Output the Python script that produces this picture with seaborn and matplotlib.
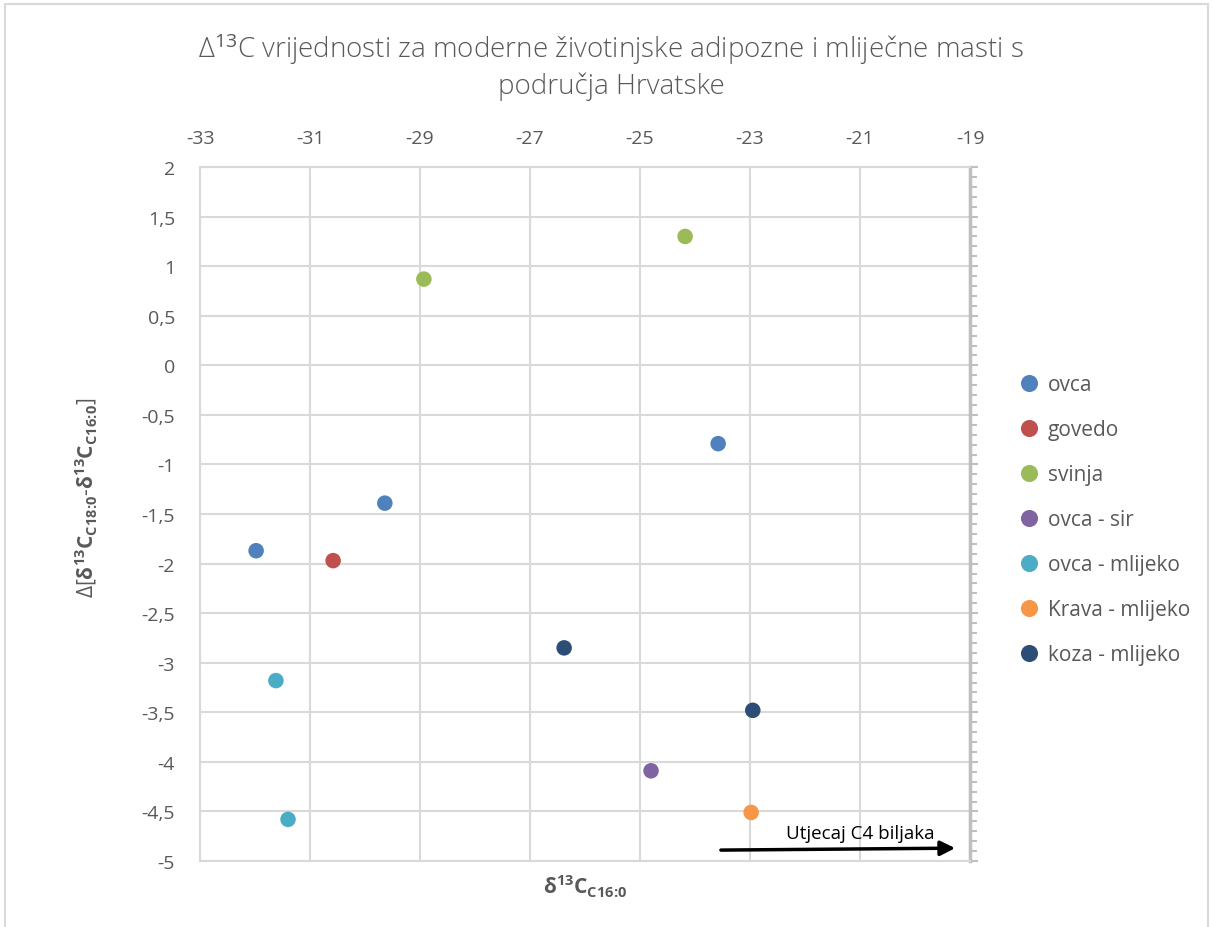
import matplotlib
matplotlib.use("Agg")
import matplotlib.pyplot as plt
from matplotlib.patches import Rectangle
from matplotlib.ticker import FuncFormatter, MultipleLocator
import pandas as pd
import seaborn as sns

# data
groups = ["ovca", "govedo", "svinja", "ovca - sir", "ovca - mlijeko", "Krava - mlijeko", "koza - mlijeko"]
colors = ["#4F81BD", "#C0504D", "#9BBB59", "#8064A2", "#4BACC6", "#F79646", "#2C4D75"]

point_group = ["ovca", "ovca", "ovca",
               "govedo",
               "svinja", "svinja",
               "ovca - sir",
               "ovca - mlijeko", "ovca - mlijeko",
               "Krava - mlijeko",
               "koza - mlijeko", "koza - mlijeko"]
d13c_c16 = [-31.98, -29.64, -23.58,
            -30.58,
            -28.93, -24.18,
            -24.80,
            -31.62, -31.40,
            -22.98,
            -26.38, -22.95]
delta = [-1.87, -1.39, -0.79,
         -1.97,
         0.87, 1.30,
         -4.09,
         -3.18, -4.58,
         -4.51,
         -2.85, -3.48]

x_ticks = [-33, -31, -29, -27, -25, -23, -21, -19]

sns.set_style("white")
plt.rcParams['font.family'] = ['Open Sans', 'DejaVu Sans']
plt.rcParams['mathtext.fontset'] = 'custom'
plt.rcParams['mathtext.rm'] = 'Open Sans'
plt.rcParams['mathtext.it'] = 'Open Sans'
plt.rcParams['mathtext.bf'] = 'Open Sans:bold'

text_col = "#595959"
grid_col = "#D9D9D9"

df = pd.DataFrame({"x": d13c_c16, "y": delta, "grupa": point_group})

fig = plt.figure(figsize=(12.13, 9.28), dpi=100)
ax = fig.add_axes([0.1649, 0.0711, 0.6348, 0.7478])

sns.scatterplot(data=df, x="x", y="y", hue="grupa", hue_order=groups,
                palette=dict(zip(groups, colors)), s=125, edgecolor="none",
                ax=ax, zorder=3)

ax.set_xlim(-33, -19)
ax.set_ylim(-5, 2)
ax.set_xticks(x_ticks)
ax.yaxis.set_major_locator(MultipleLocator(0.5))
ax.yaxis.set_minor_locator(MultipleLocator(0.1))
ax.yaxis.set_major_formatter(FuncFormatter(lambda v, p: f"{v:g}".replace(".", ",")))
ax.xaxis.set_major_formatter(FuncFormatter(lambda v, p: f"{v:g}"))

ax.xaxis.tick_top()
ax.tick_params(axis="x", which="both", top=False, bottom=False, labelsize=14,
               labelcolor=text_col, pad=11)
ax.tick_params(axis="y", which="both", left=False, right=True, labelleft=True,
               labelright=False, labelsize=14, labelcolor=text_col,
               color="#BFBFBF", direction="out", pad=12)
ax.tick_params(axis="y", which="major", length=6, width=1.5)
ax.tick_params(axis="y", which="minor", length=5, width=1.5)

ax.grid(True, which="major", color=grid_col, linewidth=1.5)
ax.set_axisbelow(True)
for side in ["left", "top", "bottom"]:
    ax.spines[side].set_color(grid_col)
    ax.spines[side].set_linewidth(1.5)
ax.spines["right"].set_color("#BFBFBF")
ax.spines["right"].set_linewidth(2.5)

ax.set_xlabel(r"$\mathbf{δ^{13}C_{C16\!:\!0}}$", fontsize=15, color=text_col, labelpad=8)
ax.set_ylabel(r"Δ[$\mathbf{δ^{13}C_{C18\!:\!0}}$-$\mathbf{δ^{13}C_{C16\!:\!0}}$]",
              fontsize=15, color=text_col, labelpad=22)
ax.yaxis.set_label_coords(-0.13, 0.525)
ax.xaxis.set_label_position("bottom")

fig.text(0.504, 0.929, "Δ$^{13}$C vrijednosti za moderne životinjske adipozne i mliječne masti s\npodručja Hrvatske",
         ha="center", va="center", fontsize=20, color=text_col, linespacing=1.25,
         fontweight="light")

# arrow annotation
ax.annotate("", xy=(-19.22, -4.87), xytext=(-23.58, -4.89),
            arrowprops=dict(arrowstyle="-|>", color="black", lw=2.5,
                            mutation_scale=22), annotation_clip=False)
ax.text(-21.0, -4.715, "Utjecaj C4 biljaka", ha="center", va="center",
        fontsize=13.5, color="black")

handles, labels = ax.get_legend_handles_labels()
ax.legend(handles, labels, loc="upper left", bbox_to_anchor=(0.8155, 0.616),
          bbox_transform=fig.transFigure, frameon=False, fontsize=15,
          labelcolor=text_col, handletextpad=-0.1, labelspacing=1.15,
          markerscale=1.1)

fig.patches.append(Rectangle((0.004, -0.01), 0.992, 1.005, transform=fig.transFigure,
                             fill=False, edgecolor=grid_col, linewidth=1.5))

fig.savefig("out.png", dpi=100)
